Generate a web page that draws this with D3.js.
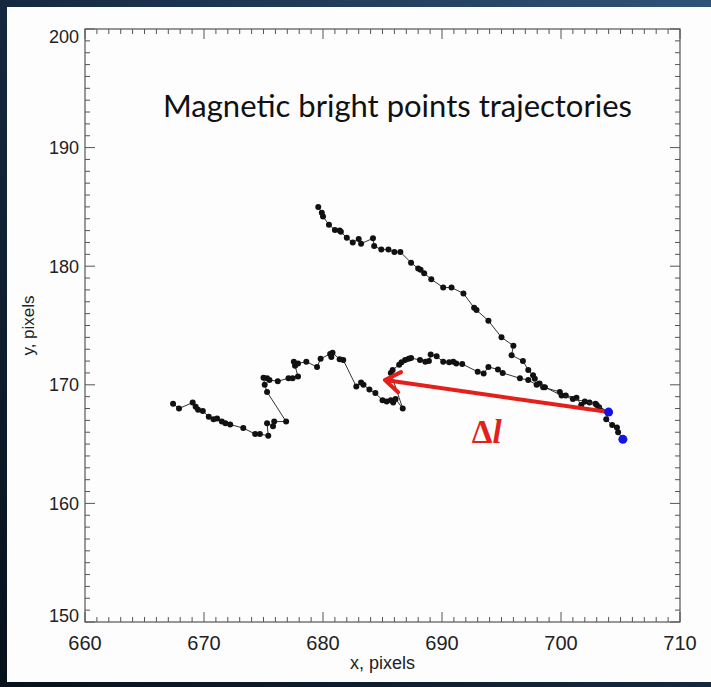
<!DOCTYPE html>
<html>
<head>
<meta charset="utf-8">
<script src="https://cdn.jsdelivr.net/npm/d3@7"></script>
<style>
  html, body { margin: 0; padding: 0; background: #0b1826; }
  svg { display: block; }
</style>
</head>
<body>
<script>
'use strict';

// upper track, from its top-left end down to the two blue points
let upperTrack = [
  [679.6, 185.0], [679.9, 184.5], [680.0, 184.2], [680.5, 183.5], [681.0, 183.05],
  [681.4, 183.0], [681.5, 182.9], [682.0, 182.4], [682.5, 182.0], [683.0, 182.3],
  [683.2, 181.9], [684.2, 182.35], [684.3, 181.7], [684.9, 181.4], [685.5, 181.4],
  [686.0, 181.2], [686.5, 181.2], [687.4, 180.3], [688.0, 179.8], [688.2, 179.7],
  [688.5, 179.4], [689.1, 178.9], [690.1, 178.2], [690.8, 178.2], [691.8, 177.7],
  [692.7, 176.5], [692.9, 176.3], [693.9, 175.4], [695.0, 174.0], [696.0, 173.3],
  [695.85, 172.5], [696.8, 172.0], [697.25, 171.25], [697.65, 170.8], [697.8, 170.5],
  [698.2, 170.1], [698.5, 169.8], [699.9, 169.4], [700.4, 169.1], [701.3, 168.9],
  [701.7, 168.3], [702.4, 168.5], [702.9, 168.4], [703.2, 168.1], [704.0, 167.7],
  [703.8, 167.1], [704.3, 166.6], [704.7, 166.4], [704.8, 166.0], [705.2, 165.4]
];

// lower track, from the first blue point back to the far left
let lowerTrack = [
  [704.0, 167.7], [703.0, 168.3], [702.0, 168.6], [701.0, 168.8], [700.05, 169.1],
  [698.65, 169.8], [697.95, 170.0], [697.25, 170.4], [696.55, 170.55], [695.1, 171.0],
  [694.7, 171.3], [693.9, 171.5], [693.5, 170.95], [693.0, 171.1], [691.7, 171.75],
  [691.2, 171.8], [690.95, 171.95], [690.6, 171.9], [690.1, 171.95], [689.55, 172.4],
  [689.05, 172.55], [688.9, 172.0], [688.6, 171.95], [688.15, 172.1], [687.4, 172.25],
  [687.2, 172.2], [686.9, 172.1], [686.6, 171.9], [686.4, 171.7], [685.85, 171.25],
  [685.7, 171.0], [686.7, 168.0], [686.1, 168.8], [685.9, 168.5], [685.7, 168.7],
  [685.35, 168.6], [685.0, 168.7], [684.4, 169.3], [683.9, 169.6], [683.4, 170.0],
  [683.2, 170.2], [682.8, 169.85], [681.7, 172.1], [681.4, 172.15], [680.8, 172.7],
  [680.7, 172.35], [680.6, 172.6], [679.8, 172.2], [679.5, 171.5], [678.6, 171.95],
  [677.9, 171.8], [677.55, 171.95], [677.65, 171.6], [677.9, 170.7], [677.45, 170.55],
  [677.1, 170.55], [676.2, 170.3], [675.5, 170.4], [675.3, 170.55], [675.0, 170.6],
  [675.1, 170.0], [675.3, 169.4], [676.9, 166.9], [675.9, 166.9], [675.8, 166.5],
  [675.3, 166.75], [675.4, 165.7], [674.7, 165.85], [674.3, 165.85], [673.3, 166.35],
  [672.2, 166.65], [671.8, 166.75], [671.5, 166.9], [671.1, 167.15], [670.8, 167.1],
  [670.4, 167.3], [669.9, 167.8], [669.5, 167.9], [669.3, 168.15], [669.05, 168.5],
  [667.9, 168.0], [667.4, 168.4]
];

let bluePoints = [[704.0, 167.7], [705.2, 165.4]];

let arrowFrom = [704.0, 167.7];
let arrowTo = [685.2, 170.4];
let arrowLabelAt = [692.5, 165.1];

let xTicks = [660, 670, 680, 690, 700, 710];
let yTicks = [150, 160, 170, 180, 190, 200];

let titleText = 'Magnetic bright points trajectories';
let xTitle = 'x, pixels';
let yTitle = 'y, pixels';

let width = 711;
let height = 687;
let frame = {left: 85, right: 680, top: 29, bottom: 622};

let x = d3.scaleLinear().domain([660, 710]).range([frame.left, frame.right]);
let y = d3.scaleLinear().domain([150, 200]).range([frame.bottom, frame.top]);

let svg = d3.select('body').append('svg')
    .attr('width', width)
    .attr('height', height);

// dark slide background behind the white panel
let grad = svg.append('defs').append('linearGradient')
    .attr('id', 'bg')
    .attr('x1', '0').attr('y1', '1').attr('x2', '1').attr('y2', '0');
grad.append('stop').attr('offset', '0%').attr('stop-color', '#07111c');
grad.append('stop').attr('offset', '50%').attr('stop-color', '#14293f');
grad.append('stop').attr('offset', '100%').attr('stop-color', '#2f5478');

svg.append('rect')
    .attr('width', width).attr('height', height)
    .attr('fill', 'url(#bg)');

svg.append('rect')
    .attr('x', 7).attr('y', 7)
    .attr('width', width - 7).attr('height', 675)
    .attr('fill', '#fdfdfd');

let axisColor = '#555';
let tickFont = '"Liberation Sans", Arial, Helvetica, sans-serif';

// minor ticks every unit, major every ten, on all four sides, pointing in
let minorX = d3.range(660, 711, 1);
let minorY = d3.range(150, 201, 1);
let tickLen = (v) => (v % 10 === 0 ? 10 : 5);

let ticks = svg.append('g')
    .attr('stroke', axisColor)
    .attr('stroke-width', 1);

ticks.selectAll('line.xb')
  .data(minorX)
  .enter().append('line')
    .attr('class', 'xb')
    .attr('x1', (d) => x(d)).attr('x2', (d) => x(d))
    .attr('y1', frame.bottom).attr('y2', (d) => frame.bottom - tickLen(d));

ticks.selectAll('line.xt')
  .data(minorX)
  .enter().append('line')
    .attr('class', 'xt')
    .attr('x1', (d) => x(d)).attr('x2', (d) => x(d))
    .attr('y1', frame.top).attr('y2', (d) => frame.top + tickLen(d));

ticks.selectAll('line.yl')
  .data(minorY)
  .enter().append('line')
    .attr('class', 'yl')
    .attr('y1', (d) => y(d)).attr('y2', (d) => y(d))
    .attr('x1', frame.left).attr('x2', (d) => frame.left + tickLen(d));

ticks.selectAll('line.yr')
  .data(minorY)
  .enter().append('line')
    .attr('class', 'yr')
    .attr('y1', (d) => y(d)).attr('y2', (d) => y(d))
    .attr('x1', frame.right).attr('x2', (d) => frame.right - tickLen(d));

svg.append('rect')
    .attr('x', frame.left).attr('y', frame.top)
    .attr('width', frame.right - frame.left)
    .attr('height', frame.bottom - frame.top)
    .attr('fill', 'none')
    .attr('stroke', axisColor)
    .attr('stroke-width', 1.2);

// tick labels
svg.selectAll('text.xl')
  .data(xTicks)
  .enter().append('text')
    .attr('class', 'xl')
    .attr('x', (d) => x(d))
    .attr('y', frame.bottom + 28)
    .attr('text-anchor', 'middle')
    .style('font-family', tickFont)
    .style('font-size', '20px')
    .style('fill', '#222')
    .text((d) => d);

svg.selectAll('text.yl')
  .data(yTicks)
  .enter().append('text')
    .attr('class', 'yl')
    .attr('x', frame.left - 6)
    .attr('y', (d) => y(d))
    // the end labels sit inside the frame's height
    .attr('dy', (d) => (d === 200 ? '0.8em' : d === 150 ? '0em' : '0.35em'))
    .attr('text-anchor', 'end')
    .style('font-family', tickFont)
    .style('font-size', '18px')
    .style('fill', '#222')
    .text((d) => d);

svg.append('text')
    .attr('x', (frame.left + frame.right) / 2)
    .attr('y', 669)
    .attr('text-anchor', 'middle')
    .style('font-family', tickFont)
    .style('font-size', '18px')
    .style('fill', '#222')
    .text(xTitle);

svg.append('text')
    .attr('transform', 'translate(34,' + ((frame.top + frame.bottom) / 2) + ') rotate(-90)')
    .attr('text-anchor', 'middle')
    .style('font-family', tickFont)
    .style('font-size', '17px')
    .style('fill', '#222')
    .text(yTitle);

svg.append('text')
    .attr('x', 163)
    .attr('y', 117)
    .attr('textLength', 469)
    .attr('lengthAdjust', 'spacingAndGlyphs')
    .style('font-family', 'Lato, "Open Sans", sans-serif')
    .style('font-size', '31px')
    .style('fill', '#111')
    .text(titleText);

// trajectories
let line = d3.line()
    .x((d) => x(d[0]))
    .y((d) => y(d[1]));

[upperTrack, lowerTrack].forEach(function(track) {
  svg.append('path')
      .datum(track)
      .attr('d', line)
      .attr('fill', 'none')
      .attr('stroke', '#333')
      .attr('stroke-width', 1);

  svg.append('g').selectAll('circle')
    .data(track)
    .enter().append('circle')
      .attr('cx', (d) => x(d[0]))
      .attr('cy', (d) => y(d[1]))
      .attr('r', 3)
      .attr('fill', '#111');
});

// displacement arrow
let red = '#e3201b';
let ax0 = x(arrowFrom[0]), ay0 = y(arrowFrom[1]);
let ax1 = x(arrowTo[0]), ay1 = y(arrowTo[1]);
let ang = Math.atan2(ay0 - ay1, ax0 - ax1);
let headLen = 18;
let spread = 0.6;

svg.append('line')
    .attr('x1', ax0).attr('y1', ay0)
    .attr('x2', ax1 + 2 * Math.cos(ang)).attr('y2', ay1 + 2 * Math.sin(ang))
    .attr('stroke', red)
    .attr('stroke-width', 4);

svg.append('path')
    .attr('d', 'M' + (ax1 + headLen * Math.cos(ang - spread)) + ',' + (ay1 + headLen * Math.sin(ang - spread)) +
        'L' + ax1 + ',' + ay1 +
        'L' + (ax1 + headLen * Math.cos(ang + spread)) + ',' + (ay1 + headLen * Math.sin(ang + spread)))
    .attr('fill', 'none')
    .attr('stroke', red)
    .attr('stroke-width', 4)
    .attr('stroke-linecap', 'round')
    .attr('stroke-linejoin', 'round');

let lbl = svg.append('text')
    .attr('x', x(arrowLabelAt[0]))
    .attr('y', y(arrowLabelAt[1]))
    .style('font-family', '"Liberation Serif", "DejaVu Serif", serif')
    .style('font-size', '33px')
    .style('font-weight', 'bold')
    .style('fill', red);
lbl.append('tspan').text('Δ');
lbl.append('tspan').style('font-style', 'italic').text('l');

// blue end points
svg.append('g').selectAll('circle')
  .data(bluePoints)
  .enter().append('circle')
    .attr('cx', (d) => x(d[0]))
    .attr('cy', (d) => y(d[1]))
    .attr('r', 4.5)
    .attr('fill', '#1414e6');
</script>
</body>
</html>
